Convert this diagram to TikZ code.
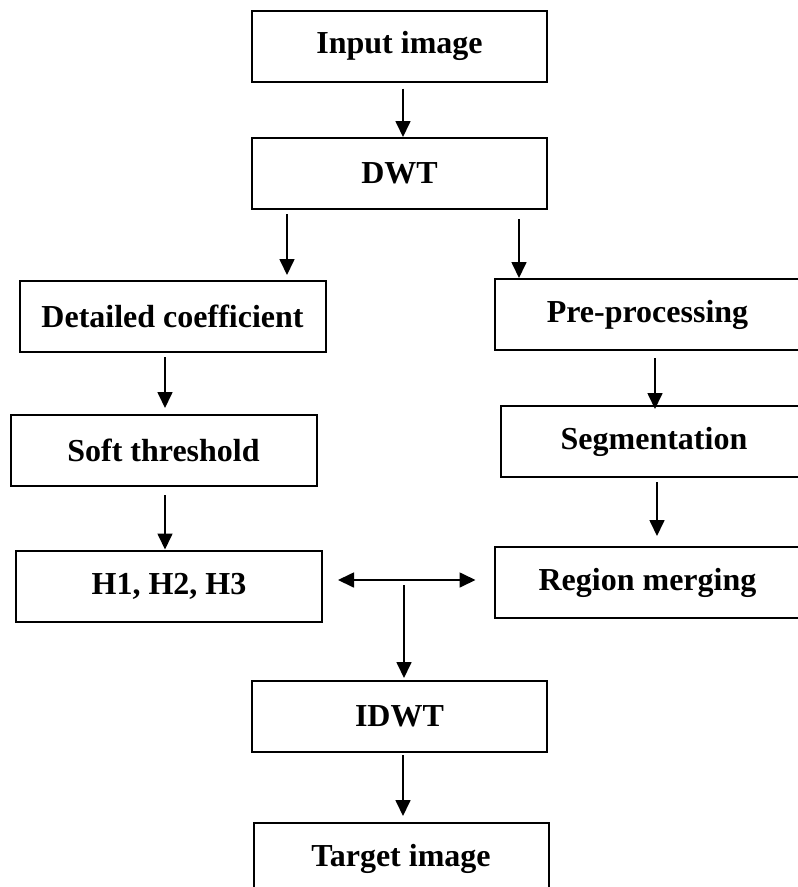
\documentclass[tikz,border=0pt]{standalone}
\usepackage{fontspec}
\setmainfont{Liberation Serif}
\usetikzlibrary{arrows.meta, positioning, calc}
\tikzset{
  arrowK/.style={-{Triangle[length=16pt, width=15pt]}, black, line width=1.7pt},
  arrowKK/.style={{Triangle[length=16pt, width=15pt]}-{Triangle[length=16pt, width=15pt]}, black, line width=1.7pt},
  boxA/.style={rectangle, draw=black, line width=2pt, align=center,
               font=\fontsize{32}{38}\selectfont\bfseries,
               minimum width=295pt, minimum height=71pt, inner sep=0pt},
  boxW/.style={boxA, minimum width=306pt},
}
\begin{document}
\begin{tikzpicture}[x=1pt, y=-1pt]
    \clip (0,0) rectangle (798,887);
    % centre column
    \node[boxA] (in)   at (399.5,46)  {Input image};
    \node[boxA] (dwt)  at (399.5,173.5) {DWT};
    % left branch
    \node[boxW] (det)  at (172.5,316.5) {Detailed coefficient};
    \node[boxW] (soft) at (163.5,450.5) {Soft threshold};
    \node[boxW] (h)    at (169,586)   {H1, H2, H3};
    % right branch
    \node[boxW] (pre)  at (647.5,314.5) {Pre-processing};
    \node[boxW] (seg)  at (654,441.5) {Segmentation};
    \node[boxW] (reg)  at (647.5,582.5) {Region merging};
    % output
    \node[boxA] (idwt) at (399.5,716.5) {IDWT};
    \node[boxA] (tgt)  at (401,858.5) {Target image};
    \coordinate (mid) at (404,580);
    \draw[arrowK] ([yshift=-6pt]in.south -| 403,0) -- (dwt.north -| 403,0);
    \draw[arrowK] ([yshift=-4pt]dwt.south -| 287,0) -- ([yshift=5pt]det.north -| 287,0);
    \draw[arrowK] ([yshift=-9pt]dwt.south -| 519,0) -- (pre.north -| 519,0);
    \draw[arrowK] ([yshift=-4pt]det.south -| 165,0) -- ([yshift=6pt]soft.north -| 165,0);
    \draw[arrowK] ([yshift=-8pt]soft.south -| 165,0) -- (h.north -| 165,0);
    \draw[arrowK] ([yshift=-7pt]pre.south -| 655,0) -- ([yshift=-4pt]seg.north -| 655,0);
    \draw[arrowK] ([yshift=-4pt]seg.south -| 657,0) -- ([yshift=10pt]reg.north -| 657,0);
    \draw[arrowKK] ([xshift=15pt]h.east |- mid) -- ([xshift=-18pt]reg.west |- mid);
    \draw[arrowK] ([yshift=-5pt]mid) -- ([yshift=2pt]idwt.north -| mid);
    \draw[arrowK] ([yshift=-2pt]idwt.south -| 403,0) -- ([yshift=6pt]tgt.north -| 403,0);
\end{tikzpicture}
\end{document}
